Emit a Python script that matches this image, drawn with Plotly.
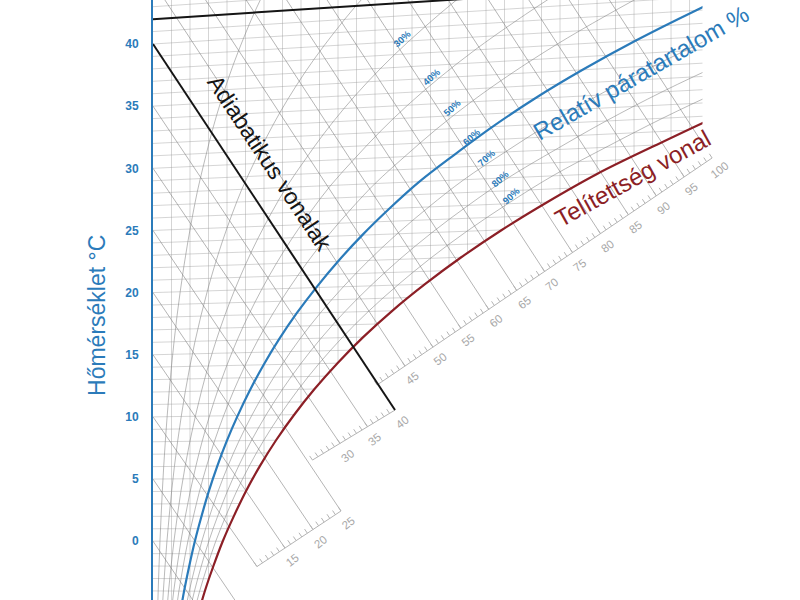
import numpy as np
import plotly.graph_objects as go

# ---------------- data ----------------
# saturation moisture content (g/kg) at temperature (°C)
sat_temp = [-8, -6, -4, -2, 0, 2, 4, 6, 8, 10, 12, 14, 16, 18, 20, 22, 24, 26,
            28, 30, 32, 34, 36, 38, 40, 42, 44, 46]
sat_moist = [2.06, 2.41, 2.80, 3.26, 3.77, 4.37, 5.03, 5.79, 6.65, 7.63, 8.73,
             9.97, 11.36, 12.93, 14.70, 16.66, 18.85, 21.30, 24.0, 27.2, 30.6,
             34.4, 38.7, 43.5, 48.9, 54.8, 61.5, 68.5]
rh_grid_levels = [10, 20, 30, 40, 50, 70, 80, 90]
rh_main_level = 60
rh_label_levels = [30, 40, 50, 60, 70, 80, 90]
enthalpy_levels = list(range(-5, 101, 5))
enthalpy_scale_labels = list(range(15, 101, 5))
temp_ticks = list(range(-5, 41, 5))
isotherm_temps = list(range(-6, 45))
moisture_lines = list(range(1, 30))
adiabat_enthalpy = 40
top_isotherm = 42

# ---------------- geometry / styles ----------------
K = 0.0023            # Mollier skew of isotherms
X_EDGE = 29.7         # right edge of the grid (g/kg)
X_MAX = 34.97
Y_MIN, Y_MAX = -4.73, 43.54
PX_X, PX_Y = 18.5, 12.43
BLUE = "#2b7bba"
RED = "#8c1f26"
GRID = "rgba(150,150,150,0.40)"
RHGRAY = "rgba(130,130,130,0.55)"
HGRAY = "rgba(120,120,120,0.55)"
SCALEGRAY = "#b4b4b4"
FONT = "Liberation Sans, Arial, sans-serif"

# enthalpy scale segments: (h_from, h_to, point at h_from, point at h_to)
SEGMENTS = [
    (10, 25, (5.62, -2.04), (10.16, 2.43)),
    (25, 40, (8.62, 6.53), (13.08, 10.55)),
    (40, 100, (12.11, 12.57), (30.22, 30.83)),
]


def chart_y(T, x):
    return np.asarray(T, float) * (1 + K * np.asarray(x, float))


def seg_index(h):
    return 0 if h <= 25 else (1 if h <= 40 else 2)


def scale_point(h, si):
    h0, h1, p0, p1 = SEGMENTS[si]
    t = (h - h0) / (h1 - h0)
    return p0[0] + t * (p1[0] - p0[0]), p0[1] + t * (p1[1] - p0[1])


def multiline(segs, color, width, shape="linear"):
    xs, ys = [], []
    for sx, sy in segs:
        xs += list(sx) + [None]
        ys += list(sy) + [None]
    return go.Scatter(x=xs, y=ys, mode="lines", hoverinfo="skip", connectgaps=False,
                      line=dict(color=color, width=width, shape=shape))


sat_t = np.array(sat_temp, float)
sat_x = np.array(sat_moist, float)

traces = []

# 1. grid: constant moisture lines and isotherms
traces.append(multiline([([m, m], [Y_MIN - 5, Y_MAX + 5]) for m in moisture_lines], GRID, 1))
traces.append(multiline([([0, X_MAX], [T, float(chart_y(T, X_MAX))]) for T in isotherm_temps], GRID, 1))

# gray relative humidity curves
for phi in rh_grid_levels:
    xs = sat_x * phi / 100.0
    traces.append(go.Scatter(x=xs, y=chart_y(sat_t, xs), mode="lines", hoverinfo="skip",
                             line=dict(color=RHGRAY, width=1, shape="spline", smoothing=1.0)))

# 2. white mask below the saturation curve
red_y = chart_y(sat_t, sat_x)
mx = list(sat_x) + [90, 90, sat_x[0]]
my = list(red_y) + [red_y[-1], Y_MIN - 20, Y_MIN - 20]
traces.append(go.Scatter(x=mx, y=my, fill="toself", fillcolor="white", mode="none",
                         hoverinfo="skip"))

# 3. enthalpy lines
h_segs = []
for h in enthalpy_levels:
    if h < 10:
        x_end = (h - (Y_MIN - 5)) / 2.2
        h_segs.append(([0, x_end], [h, Y_MIN - 5]))
    else:
        if h == adiabat_enthalpy:
            continue
        ex, ey = scale_point(h, seg_index(h))
        h_segs.append(([0, ex], [h, ey]))
traces.append(multiline(h_segs, HGRAY, 1))

# 4. main curves
bx = sat_x * rh_main_level / 100.0
traces.append(go.Scatter(x=bx, y=chart_y(sat_t, bx), mode="lines", hoverinfo="skip",
                         line=dict(color=BLUE, width=2.2, shape="spline", smoothing=1.0)))
traces.append(go.Scatter(x=sat_x, y=red_y, mode="lines", hoverinfo="skip",
                         line=dict(color=RED, width=2.2, shape="spline", smoothing=1.0)))

# 5. white mask right of the grid edge
traces.append(go.Scatter(x=[X_EDGE, 90, 90, X_EDGE], y=[Y_MIN - 20, Y_MIN - 20, Y_MAX + 20, Y_MAX + 20],
                         fill="toself", fillcolor="white", mode="none", hoverinfo="skip"))

# 6. enthalpy scale (baseline + minor ticks)
scale_segs, tick_segs = [], []
for si, (h0, h1, p0, p1) in enumerate(SEGMENTS):
    scale_segs.append(([p0[0], p1[0]], [p0[1], p1[1]]))
    for h in range(h0, h1 + 1):
        px_, py_ = scale_point(h, si)
        dxp = (0 - px_) * PX_X
        dyp = (h - py_) * PX_Y
        L = np.hypot(dxp, dyp)
        t = 5.0 / L
        tick_segs.append(([px_, px_ + t * (0 - px_)], [py_, py_ + t * (h - py_)]))
traces.append(multiline(scale_segs, SCALEGRAY, 1))
traces.append(multiline(tick_segs, SCALEGRAY, 1))

# 7. black lines: adiabatic line and top isotherm
ax_, ay_ = scale_point(adiabat_enthalpy, seg_index(adiabat_enthalpy))
traces.append(go.Scatter(x=[0, ax_], y=[adiabat_enthalpy, ay_], mode="lines", hoverinfo="skip",
                         line=dict(color="#151515", width=2)))
traces.append(go.Scatter(x=[0, 25], y=[top_isotherm, float(chart_y(top_isotherm, 25))], mode="lines",
                         hoverinfo="skip", line=dict(color="#151515", width=2)))

fig = go.Figure(traces)

ann = []
# enthalpy scale labels
for h in enthalpy_scale_labels:
    px_, py_ = scale_point(h, seg_index(h))
    ann.append(dict(x=px_ + 0.40, y=py_ - 0.98, text=str(h), showarrow=False, textangle=-38,
                    font=dict(family=FONT, size=11.5, color="#a8a8a8")))

# RH labels
rh_label_pos = [(13.46, 40.48), (15.08, 37.35), (16.16, 34.93), (17.24, 32.52),
                (18.05, 30.83), (18.76, 29.22), (19.35, 27.85)]
for lvl, (lx, ly) in zip(rh_label_levels, rh_label_pos):
    ann.append(dict(x=lx, y=ly, text=f"<b>{lvl}%</b>", showarrow=False, textangle=-42,
                    font=dict(family=FONT, size=9.5, color=BLUE)))

ann.append(dict(x=6.3, y=30.4, text="Adiabatikus vonalak", showarrow=False, textangle=56.5,
                font=dict(family=FONT, size=23, color="#151515")))
ann.append(dict(x=26.4, y=37.7, text="Relatív páratartalom %", showarrow=False, textangle=-30,
                font=dict(family=FONT, size=24, color=BLUE)))
ann.append(dict(x=25.9, y=29.2, text="Telítettség vonal", showarrow=False, textangle=-29,
                font=dict(family=FONT, size=24, color=RED)))
ann.append(dict(xref="paper", yref="paper", x=-0.0866, y=0.475, text="Hőmérséklet °C",
                showarrow=False, textangle=-90, xanchor="center", yanchor="middle",
                font=dict(family=FONT, size=23, color=BLUE)))

fig.update_layout(
    width=800, height=600,
    margin=dict(l=153, r=0, t=0, b=0),
    paper_bgcolor="white", plot_bgcolor="white",
    showlegend=False,
    annotations=ann,
    xaxis=dict(range=[0, X_MAX], visible=False, fixedrange=True),
    yaxis=dict(range=[Y_MIN, Y_MAX], tickvals=temp_ticks, showgrid=False, zeroline=False,
               showline=True, linecolor=BLUE, linewidth=2, ticks="", automargin=False,
               ticklabelstandoff=10,
               tickfont=dict(family="Liberation Sans Narrow, Arial Narrow, Liberation Sans, Arial",
                             size=12, color=BLUE, weight="bold")),
)

fig.write_html("out.html", config={"displayModeBar": False},
               post_script="document.body.style.margin='0';document.body.style.overflow='hidden';")
